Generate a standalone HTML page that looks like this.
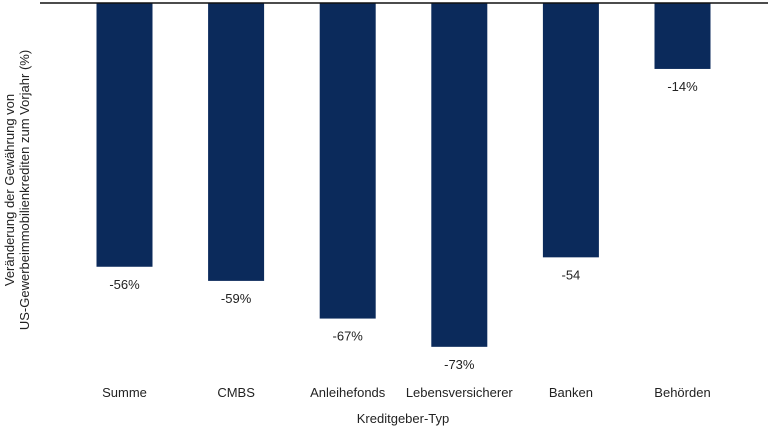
<!DOCTYPE html>
<html><head><meta charset="utf-8"><style>
body{margin:0;background:#fff;}
svg{display:block;font-family:"Liberation Sans",sans-serif;}
</style></head><body>
<svg id="c" width="768" height="433">
<text transform="translate(14,190) rotate(-90)" text-anchor="middle" font-size="13" fill="#222">Veränderung der Gewährung von</text>
<text transform="translate(29,190) rotate(-90)" text-anchor="middle" font-size="13" fill="#222">US-Gewerbeimmobilienkrediten zum Vorjahr (%)</text>
<text x="403" y="423" text-anchor="middle" font-size="13" fill="#222">Kreditgeber-Typ</text>
</svg>
<script>
const categories=["Summe","CMBS","Anleihefonds","Lebensversicherer","Banken","Behörden"];
const values=[-56,-59,-67,-73,-54,-14];
const valueLabels=["-56%","-59%","-67%","-73%","-54","-14%"];
const svg=document.getElementById('c');
const NS="http://www.w3.org/2000/svg";
const y0=3,pxPer=4.71;
const yScale=v=>y0-v*pxPer;
const xCenter=i=>124.5+i*111.6;
const bw=56;
function mk(t,a){const e=document.createElementNS(NS,t);for(const k in a)e.setAttribute(k,a[k]);svg.appendChild(e);return e;}
categories.forEach((c,i)=>{
  const yb=yScale(values[i]);
  const r=mk('rect',{x:xCenter(i)-bw/2,y:y0,width:bw,height:yb-y0,fill:'#0b2a5b'});
  
  
  const l=mk('text',{x:xCenter(i),y:yb+22,'text-anchor':'middle','font-size':'13',fill:'#222'});
  l.textContent=valueLabels[i];
  
  
  const t=mk('text',{x:xCenter(i),y:397,'text-anchor':'middle','font-size':'13',fill:'#222'});
  t.textContent=c;
  
  
});
const ax=mk('line',{x1:40,x2:768,y1:y0,y2:y0,stroke:'#111','stroke-width':1.5});


</script>
</body></html>
